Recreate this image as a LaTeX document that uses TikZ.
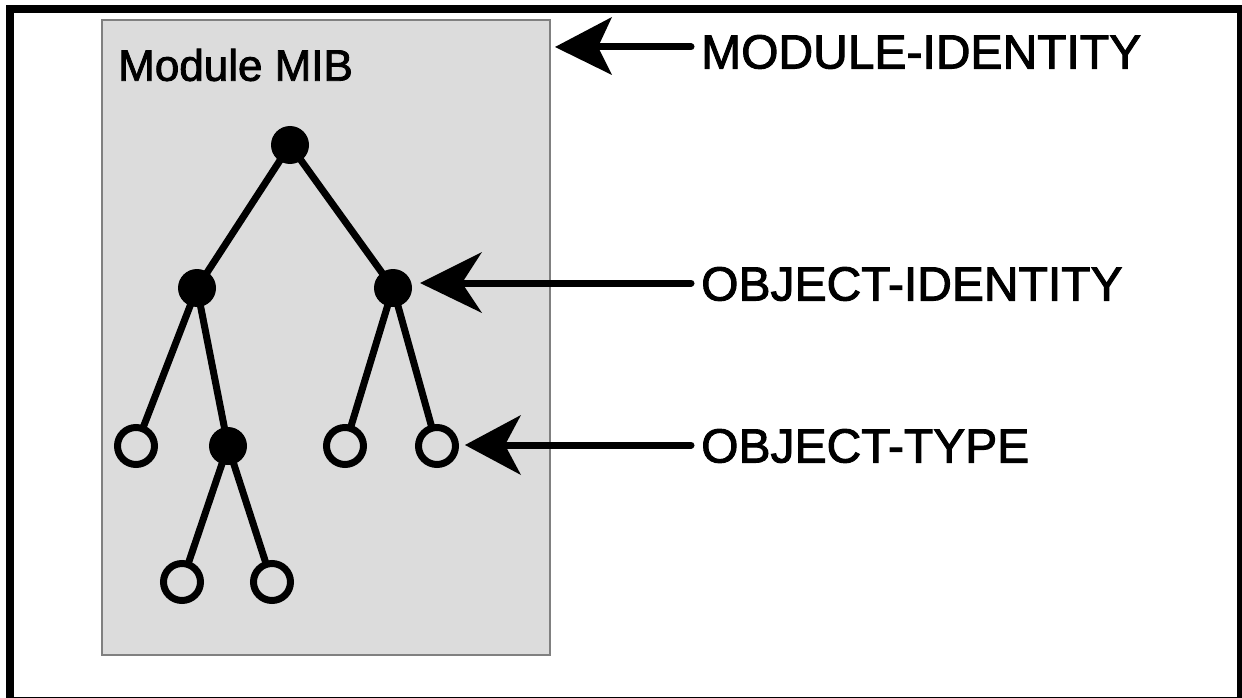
\documentclass[tikz,border=0pt]{standalone}
\usepackage{fontspec}
\setmainfont{Liberation Sans}[FakeBold=2]
\usetikzlibrary{backgrounds}
\definecolor{boxgray}{RGB}{220,220,220}
\definecolor{boxedge}{RGB}{128,128,128}
\begin{document}
\begin{tikzpicture}[x=1pt,y=-1pt,
  full/.style={circle,fill=black,minimum size=38pt,inner sep=0pt},
  hollow/.style={circle,draw=black,fill=boxgray,line width=7pt,minimum size=37pt,inner sep=0pt},
  treeedge/.style={line width=7pt},
  lab/.style={anchor=west,inner sep=0pt,font=\fontsize{48}{56}\selectfont},
  arrline/.style={line width=7pt,line cap=round},
  title/.style={anchor=west,inner sep=0pt,font=\fontsize{44}{52}\selectfont}]
\useasboundingbox (0,0) rectangle (1242,698);
\clip (0,0) rectangle (1242,698);
\draw[line width=8pt] (10,9.5) rectangle (1241,701);
% module box
\begin{pgfonlayer}{background}
\draw[fill=boxgray,draw=boxedge,line width=1.5pt] (102,20) rectangle (550,655);
\end{pgfonlayer}
\node[title] (mib) at (118,65) {Module MIB};
% tree
\node[full] (root) at (290,145) {};
\node[full] (l) at (197,288) {};
\node[full] (r) at (393,288) {};
\node[hollow] (ll) at (136,446) {};
\node[full] (lr) at (228,446) {};
\node[hollow] (rl) at (345,446) {};
\node[hollow] (rr) at (437,446) {};
\node[hollow] (lrl) at (182,582) {};
\node[hollow] (lrr) at (272,582) {};
\begin{pgfonlayer}{background}
\draw[treeedge] (root.center) -- (l.center);
\draw[treeedge] (root.center) -- (r.center);
\draw[treeedge] (l.center) -- (ll.center);
\draw[treeedge] (l.center) -- (lr.center);
\draw[treeedge] (r.center) -- (rl.center);
\draw[treeedge] (r.center) -- (rr.center);
\draw[treeedge] (lr.center) -- (lrl.center);
\draw[treeedge] (lr.center) -- (lrr.center);
\end{pgfonlayer}
% labels
\node[lab] (mi) at (701,52) {MODULE-IDENTITY};
\node[lab] (oi) at (701,284) {OBJECT-IDENTITY};
\node[lab] (ot) at (701,446) {OBJECT-TYPE};
% arrows
\coordinate (mtip) at (555,47);
\coordinate (otip) at (420,283);
\coordinate (ttip) at (465,445);
\draw[arrline] ([xshift=-10pt]mi.west |- mtip) -- ([xshift=43pt]mtip);
\fill (mtip) -- ++(57,-30) -- ++(-14,30) -- ++(14,28) -- cycle;
\draw[arrline] ([xshift=-10pt]oi.west |- otip) -- ([xshift=42pt]otip);
\fill (otip) -- ++(62,-31) -- ++(-20,31) -- ++(20,30) -- cycle;
\draw[arrline] ([xshift=-10pt]ot.west |- ttip) -- ([xshift=40pt]ttip);
\fill (ttip) -- ++(56,-30) -- ++(-16,30) -- ++(16,30) -- cycle;
\end{tikzpicture}
\end{document}
